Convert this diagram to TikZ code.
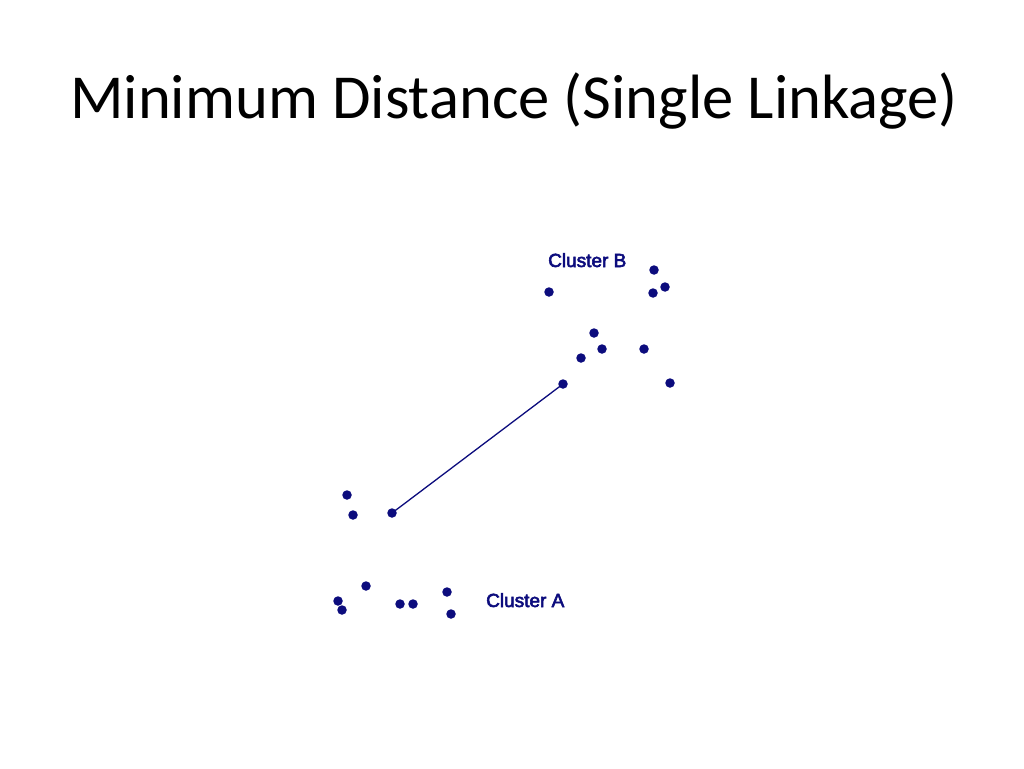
\documentclass[tikz,border=0pt]{standalone}
\usepackage{fontspec}
\setmainfont{Carlito}
\newfontfamily\labelfont[FakeBold=3]{Liberation Sans}
\definecolor{dotblue}{RGB}{12,12,125}
\begin{document}
\begin{tikzpicture}[x=1pt,y=-1pt,
  pt/.style={circle,fill=dotblue,inner sep=0pt,minimum size=9.5pt},
  clabel/.style={anchor=base west,inner sep=0pt,text=dotblue,font=\labelfont\fontsize{19}{22}\selectfont},
  link/.style={draw=dotblue,line width=1.3pt}]
\useasboundingbox[fill=white] (0,0) rectangle (1024,768);
\node[anchor=base west,inner sep=0pt,font=\fontsize{62.6}{70}\selectfont] (title) at (70,118) {Minimum Distance (Single Linkage)};
% Cluster B
\node[clabel] (labB) at (548,267) {Cluster B};
\node[pt] (b1) at (654,270) {};
\node[pt] (b2) at (549,292) {};
\node[pt] (b3) at (653,293) {};
\node[pt] (b4) at (665,287) {};
\node[pt] (b5) at (594,333) {};
\node[pt] (b6) at (602,349) {};
\node[pt] (b7) at (644,349) {};
\node[pt] (b8) at (581,358) {};
\node[pt] (b9) at (563,384) {};
\node[pt] (b10) at (670,383) {};
% Cluster A
\node[clabel] (labA) at (486,607) {Cluster A};
\node[pt] (a1) at (347,495) {};
\node[pt] (a2) at (353,515) {};
\node[pt] (a3) at (392,513) {};
\node[pt] (a4) at (366,586) {};
\node[pt] (a5) at (338,601) {};
\node[pt] (a6) at (342,610) {};
\node[pt] (a7) at (400,604) {};
\node[pt] (a8) at (413,604) {};
\node[pt] (a9) at (447,592) {};
\node[pt] (a10) at (451,614) {};
\draw[link] (a3.center) -- (b9.center);
\end{tikzpicture}
\end{document}
